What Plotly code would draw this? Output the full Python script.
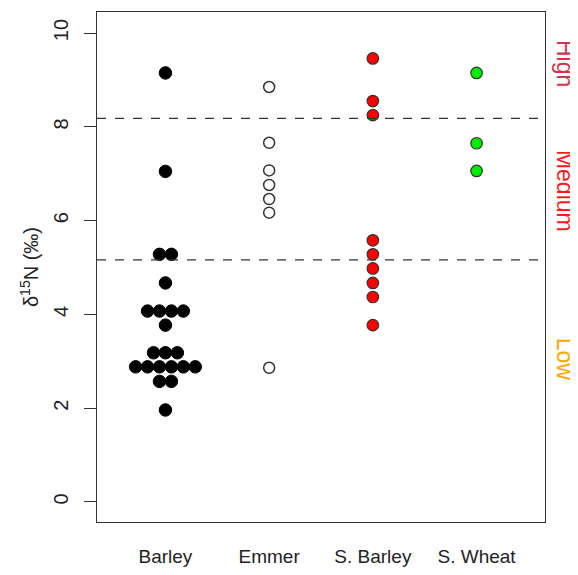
import plotly.graph_objects as go
from collections import defaultdict

categories = ["Barley", "Emmer", "S. Barley", "S. Wheat"]
barley = [9.15, 7.05, 5.28, 5.28, 4.67, 4.07, 4.07, 4.07, 4.07, 3.77,
          3.18, 3.18, 3.18, 2.88, 2.88, 2.88, 2.88, 2.88, 2.88, 2.57, 2.57, 1.96]
emmer = [8.85, 7.66, 7.07, 6.76, 6.46, 6.17, 2.86]
s_barley = [9.46, 8.55, 8.25, 5.58, 5.28, 4.98, 4.67, 4.37, 3.77]
s_wheat = [9.15, 7.65, 7.06]
thresholds = [8.18, 5.16]
zones = ["High", "Medium", "Low"]
zone_y = [9.36, 6.63, 3.05]
zone_colors = ["#d2334a", "#ff1a1a", "#ffa500"]
yticks = [0, 2, 4, 6, 8, 10]

def swarm(vals, pos, step=0.115):
    groups = defaultdict(list)
    for i, v in enumerate(vals):
        groups[v].append(i)
    xs = [0.0] * len(vals)
    for v, idx in groups.items():
        n = len(idx)
        for k, i in enumerate(idx):
            xs[i] = pos + (k - (n - 1) / 2) * step
    return xs

fig = go.Figure()
series = [
    (barley, 1, dict(color="black", size=12.5, line=dict(color="black", width=1))),
    (emmer, 2, dict(color="white", size=11, line=dict(color="#333333", width=1.5))),
    (s_barley, 3, dict(color="#ff0000", size=11.5, line=dict(color="#333333", width=1.2))),
    (s_wheat, 4, dict(color="#00ee00", size=11.5, line=dict(color="#333333", width=1.2))),
]
for vals, pos, mk in series:
    fig.add_trace(go.Scatter(x=swarm(vals, pos), y=vals, mode="markers",
                             marker=mk, showlegend=False, hoverinfo="y"))

for t in thresholds:
    fig.add_shape(type="line", xref="paper", x0=0, x1=1, yref="y", y0=t, y1=t,
                  line=dict(color="#333333", width=1.3, dash="dash"))

for z, zy, zc in zip(zones, zone_y, zone_colors):
    fig.add_annotation(text=z, xref="paper", x=1.045, yref="y", y=zy,
                       xanchor="center", yanchor="middle",
                       showarrow=False, textangle=90,
                       font=dict(size=23, color=zc, family="Liberation Sans, Arial"))

fig.update_layout(
    width=570, height=567,
    margin=dict(l=89, r=33, t=4, b=53),
    plot_bgcolor="white", paper_bgcolor="white",
    font=dict(family="Liberation Sans, Arial", size=19, color="#222222"),
    xaxis=dict(range=[0.34, 4.66], tickvals=[1, 2, 3, 4], ticktext=categories,
               showgrid=False, zeroline=False, showline=True, mirror=True,
               linecolor="#333333", linewidth=1.3, ticks="", ticklabelstandoff=17,
               automargin=False, tickfont=dict(size=19, color="#222222")),
    yaxis=dict(range=[-0.43, 10.45], tickvals=yticks, showgrid=False, zeroline=False,
               showline=True, mirror=True, linecolor="#333333", linewidth=1.3,
               ticks="outside", ticklen=12, tickcolor="#333333", tickwidth=1.3,
               tickangle=-90, ticklabelstandoff=8, automargin=False,
               tickfont=dict(size=20, color="#222222"),
               title=dict(text="δ<sup>15</sup>N (‰)", standoff=5,
                          font=dict(size=20, color="#222222"))),
)

fig.write_html("out.html")
